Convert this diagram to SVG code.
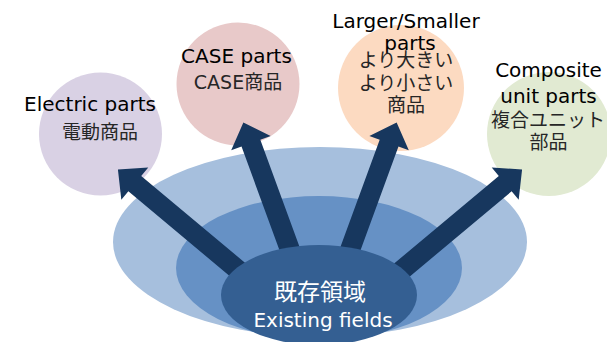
<svg xmlns="http://www.w3.org/2000/svg" width="607" height="342" viewBox="0 0 607 342">
<style>
  .en { font-family: "DejaVu Sans", "Noto Sans CJK JP", sans-serif; font-size: 20px; fill: #000; text-anchor: middle; }
  .jp { font-family: "DejaVu Sans", "Noto Sans CJK JP", sans-serif; font-size: 19px; fill: #262626; text-anchor: middle; }
  .arrow { fill: #17375E; }
  .inner-text { fill: #FFFFFF; text-anchor: middle; font-family: "DejaVu Sans", "Noto Sans CJK JP", sans-serif; }
</style>
<defs>
  <polygon id="arr175" points="0,-10 153,-10 153,-21 175,0 153,21 153,10 0,10"/>
  <polygon id="arr180" points="0,-10 158,-10 158,-21 180,0 158,21 158,10 0,10"/>
</defs>
<rect width="607" height="342" fill="#FFFFFF"/>

<g id="electric-parts">
  <circle cx="100.5" cy="134" r="61.5" fill="#D9D1E4"/>
  <text class="en" x="90" y="111">Electric parts</text>
  <text class="jp" x="100" y="139">電動商品</text>
</g>
<g id="case-parts">
  <circle cx="238" cy="84" r="61.5" fill="#E8C9C9"/>
  <text class="en" x="236.5" y="63">CASE parts</text>
  <text class="jp" x="238" y="89">CASE商品</text>
</g>
<g id="larger-smaller-parts">
  <circle cx="401" cy="88" r="63" fill="#FCDAC1"/>
  <text class="en" x="406" y="28">Larger/Smaller</text>
  <text class="en" x="410" y="50">parts</text>
  <text class="jp" x="406" y="67">より大きい</text>
  <text class="jp" x="406" y="90">より小さい</text>
  <text class="jp" x="406" y="112">商品</text>
</g>
<g id="composite-unit-parts">
  <circle cx="549" cy="134" r="62" fill="#E1EAD2"/>
  <text class="en" x="548.5" y="77">Composite</text>
  <text class="en" x="548.5" y="103">unit parts</text>
  <text class="jp" x="548" y="127">複合ユニット</text>
  <text class="jp" x="548.5" y="149">部品</text>
</g>

<g id="existing-field-rings">
  <ellipse cx="320" cy="242" rx="207" ry="95" fill="#A6BFDD"/>
  <ellipse cx="319" cy="268" rx="143" ry="72" fill="#6691C5"/>
</g>

<g id="connectors">
  <use href="#arr180" class="arrow" transform="translate(256,285) rotate(-140.1)"/>
  <use href="#arr175" class="arrow" transform="translate(303.5,286.8) rotate(-110.1)"/>
  <use href="#arr175" class="arrow" transform="translate(336.5,286.8) rotate(-69.9)"/>
  <use href="#arr180" class="arrow" transform="translate(384,285) rotate(-39.9)"/>
</g>

<g id="existing-fields">
  <ellipse cx="319" cy="295" rx="98" ry="50" fill="#345F92"/>
  <text class="inner-text" x="320" y="300" font-size="23">既存領域</text>
  <text class="inner-text" x="323" y="327" font-size="20">Existing fields</text>
</g>
</svg>
